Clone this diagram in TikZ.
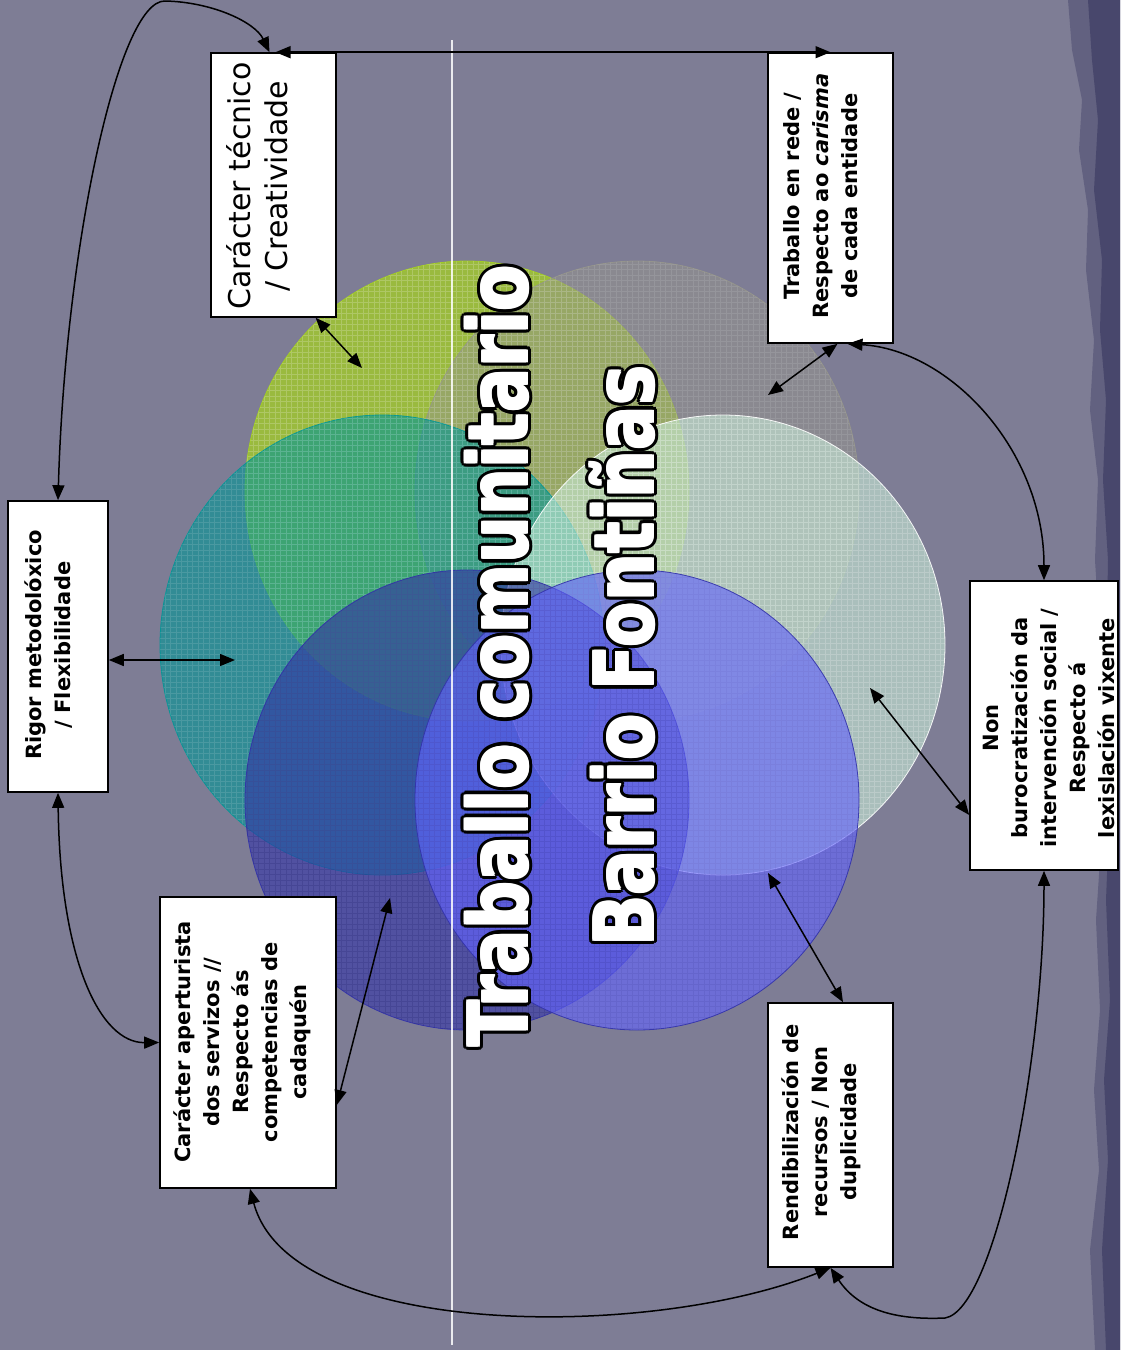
\documentclass[tikz,border=0pt]{standalone}
\usepackage{fontspec}
\setmainfont{DejaVu Sans}
\usepackage{graphicx}
\usetikzlibrary{arrows.meta,calc}

\definecolor{bg}{RGB}{126,125,149}
\definecolor{edgedark}{RGB}{72,71,108}
\definecolor{edgemid}{RGB}{98,97,128}
\definecolor{cyg}{RGB}{165,210,30}
\definecolor{cgr}{RGB}{150,150,140}
\definecolor{cte}{RGB}{0,150,150}
\definecolor{cmi}{RGB}{200,235,215}
\definecolor{cdb}{RGB}{50,50,170}
\definecolor{cvi}{RGB}{100,100,255}

\tikzset{
  box/.style={draw=black, line width=1.6pt, fill=white, inner sep=0pt},
  boxtext/.style={rotate=90, align=center, inner sep=0pt, text=black,
    font=\fontsize{21}{29}\selectfont\bfseries},
  link/.style={{Triangle[length=15pt,width=12pt]}-{Triangle[length=15pt,width=12pt]},
    line width=1.5pt, black},
  disc/.style={fill opacity=0.72, draw opacity=0.9, line width=0.8pt},
  gridlines/.style={line width=0.4pt, draw opacity=0.2},
  titletext/.style={rotate=90, inner sep=0pt, font=\fontsize{82}{90}\selectfont\bfseries},
}

\newcommand{\discgrid}[2]{%
  \begin{scope}
    \clip #1 ellipse [x radius=222pt, y radius=230pt];
    \draw[gridlines, #2] ($#1+(-225,235)$) grid[step=5.5pt] ($#1+(225,-235)$);
  \end{scope}}

\begin{document}
\begin{tikzpicture}[x=1pt,y=-1pt]
\useasboundingbox (0,0) rectangle (1120,1350);
\fill[bg] (0,0) rectangle (1120,1350);

% ragged dark right edge
\fill[edgemid] (1068,0) -- (1072,50) -- (1082,100) -- (1079,150) -- (1088,210) -- (1086,270)
  -- (1094,340) -- (1090,410) -- (1098,480) -- (1095,560) -- (1100,640) -- (1097,740)
  -- (1102,830) -- (1096,920) -- (1100,1010) -- (1094,1090) -- (1099,1170) -- (1090,1250)
  -- (1095,1350) -- (1120,1350) -- (1120,0) -- cycle;
\fill[edgedark] (1088,0) -- (1092,60) -- (1098,120) -- (1094,190) -- (1102,260) -- (1100,330)
  -- (1106,400) -- (1103,480) -- (1108,560) -- (1106,680) -- (1110,800) -- (1106,900)
  -- (1110,1000) -- (1104,1080) -- (1108,1160) -- (1102,1250) -- (1106,1350)
  -- (1120,1350) -- (1120,0) -- cycle;

% six overlapping discs
\fill[cyg, disc, draw=cyg] (467,491) ellipse [x radius=222pt, y radius=230pt];
\discgrid{(467,491)}{white}
\fill[cgr, disc, fill opacity=0.5, draw=cgr] (637,491) ellipse [x radius=222pt, y radius=230pt];
\discgrid{(637,491)}{white, draw opacity=0.1}
\fill[cte, disc, fill opacity=0.6, draw=cte] (382,645) ellipse [x radius=222pt, y radius=230pt];
\discgrid{(382,645)}{white, draw opacity=0.12}
\fill[cmi, disc, fill opacity=0.6, draw=white] (723,645) ellipse [x radius=222pt, y radius=230pt];
\discgrid{(723,645)}{white}
\fill[cdb, disc, fill opacity=0.58, draw=cdb] (467,800) ellipse [x radius=222pt, y radius=230pt];
\discgrid{(467,800)}{cdb!60!black}
\fill[cvi, disc, fill opacity=0.62, draw=cdb] (637,800) ellipse [x radius=222pt, y radius=230pt];
\discgrid{(637,800)}{cvi!60!black, draw opacity=0.15}

% thin white vertical line
\draw[white, line width=1.2pt, opacity=0.85] (452,40) -- (452,1345);

% titles with black outline (outline copies, then emboldened white)
\foreach \i in {0,...,15} {
  \node[titletext, text=black] (Tshadow\i) at ($(497,656)+({\i*22.5}:4)$)
    {\scalebox{0.82}[1]{Traballo comunitario}};
  \node[titletext, text=black] (Bshadow\i) at ($(622,656)+({\i*22.5}:4)$)
    {\scalebox{0.82}[1]{Barrio Fontiñas}};
}
\foreach \i in {0,...,3} {
  \node[titletext, text=white] (Tbold\i) at ($(497,656)+({\i*90+45}:1)$)
    {\scalebox{0.82}[1]{Traballo comunitario}};
  \node[titletext, text=white] (Bbold\i) at ($(622,656)+({\i*90+45}:1)$)
    {\scalebox{0.82}[1]{Barrio Fontiñas}};
}
\node[titletext, text=white] (T1) at (497,656) {\scalebox{0.82}[1]{Traballo comunitario}};
\node[titletext, text=white] (T2) at (622,656) {\scalebox{0.82}[1]{Barrio Fontiñas}};

% boxes
\node[box, minimum width=125pt, minimum height=264pt] (A) at (273.5,185) {};
\node[box, minimum width=125pt, minimum height=290pt] (B) at (830.5,198) {};
\node[box, minimum width=100pt, minimum height=291pt] (C) at (58,646.5) {};
\node[box, minimum width=176pt, minimum height=291pt] (D) at (248,1042.5) {};
\node[box, minimum width=125pt, minimum height=264pt] (E) at (830.5,1135) {};
\node[box, minimum width=148pt, minimum height=289pt] (F) at (1044,725.5) {};

\node[rotate=90, align=center, inner sep=0pt, font=\fontsize{30}{37}\selectfont] (At) at (258,186)
  {Carácter técnico\\/ Creatividade};
\node[boxtext] (Bt) at (821,196) {Traballo en rede /\\Respecto ao \textit{carisma}\\de cada entidade};
\node[boxtext] (Ct) at (49,645) {Rigor metodolóxico\\/ Flexibilidade};
\node[boxtext] (Dt) at (242,1042) {Carácter aperturista\\dos servizos //\\Respecto ás\\competencias de\\cadaquén};
\node[boxtext] (Et) at (821,1132) {Rendibilización de\\recursos / Non\\duplicidade};
\node[boxtext] (Ft) at (1049,728) {Non\\burocratización da\\intervención social /\\Respecto á\\lexislación vixente};

% free ends inside the discs
\coordinate (pA) at (362,368);
\coordinate (pB) at (768,395);
\coordinate (pC) at (235,660);
\coordinate (pD) at (390,898);
\coordinate (pE) at (768,873);
\coordinate (pF) at (870,688);

% connectors
\draw[link] ([xshift=2pt]A.north) -- (B.north);
\draw[link] (C.north) .. controls (65,250) and (118,0) .. (165,1)
  .. controls (212,2) and (255,22) .. ([xshift=-4pt]A.north);
\draw[link] (C.south) .. controls (60,960) and (100,1043) .. (D.west);
\draw[link] ($(A.south west)!0.833!(A.south east)$) -- (pA);
\draw[link] ($(C.east)+(0,13.5)$) -- (pC);
\draw[link] ($(D.east)+(0,62.5)$) -- (pD);
\draw[link] ($(D.south)+(2,0)$) .. controls (290,1340) and (650,1340) .. (E.south);
\draw[link] (E.south) .. controls (860,1312) and (900,1320) .. (945,1318)
  .. controls (995,1310) and (1044,1060) .. (F.south);
\draw[link] ($(B.south)+(17,0)$) .. controls (950,350) and (1044,450) .. (F.north);
\draw[link] ($(B.south)+(7,0)$) -- (pB);
\draw[link] ($(F.west)+(0,89.5)$) -- (pF);
\draw[link] ($(E.north)+(12.5,0)$) -- (pE);
\end{tikzpicture}
\end{document}
